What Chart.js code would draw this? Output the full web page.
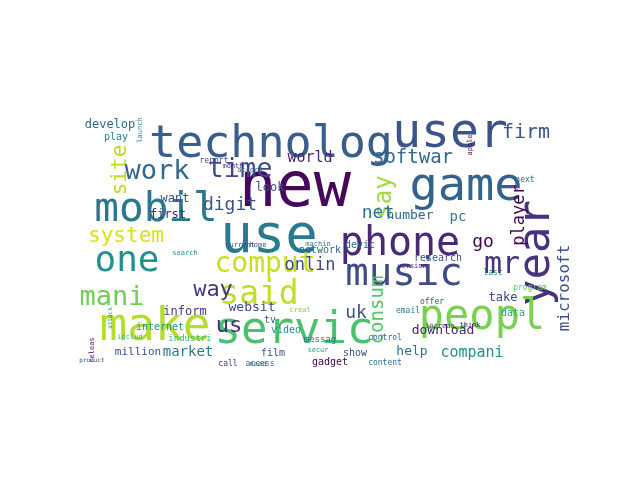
<!DOCTYPE html>
<html>
<head>
<meta charset="utf-8">
<script src="https://cdn.jsdelivr.net/npm/chart.js@4"></script>
<style>body{margin:0;background:#fff}canvas{display:block}</style>
</head>
<body>
<canvas id="c" width="640" height="480"></canvas>
<script>
// word cloud: word, placement (x,y in cloud units), weight, colour, vertical flag
const words = ['new','technolog','user','game','mobil','use','phone','year','one','music','said','make','servic','peopl',
  'mani','comput','work','time','site','system','digit','way','firm','softwar','say','net','player','world','onlin','pc',
  'number','uk','consum','go','microsoft','compani','download','help','take','data','us','market','million','develop','play',
  'first','want','look','websit','inform','internet','industri','show','tv','video','film','messag','network','devic','research',
  'program','gadget','content','call','access','report','next','last','control','offer','email','mr','launch','month','home',
  'creat','secur','need','releas','includ','search','current','accord','machin','increas','think','product','attack','version','apple'];
const posX = [295,271,450,466,156,269,400,538,127,404,259,155,294,482,
  112,265,157,240,121,126,230,213,526,413,385,378,520,310,310,458,
  410,356,378,483,565,472,443,412,503,513,229,188,138,110,116,
  168,175,270,252,185,160,190,355,270,286,273,320,320,360,438,
  530,330,385,228,260,214,525,493,385,432,408,502,140,233,258,
  300,318,258,92,130,185,240,250,318,440,470,92,110,412,470];
const posY = [190,145,135,188,210,238,245,253,262,275,295,328,332,318,
  298,265,172,170,170,237,205,290,133,158,197,213,215,158,266,217,
  216,313,310,242,288,353,331,352,298,313,326,352,352,125,137,
  215,199,188,308,312,327,339,353,320,330,353,340,250,245,258,
  288,362,363,364,364,161,180,273,338,302,311,265,130,166,245,
  310,350,364,350,337,253,245,170,244,326,325,360,318,266,145];
const weights = [62,45,48,47,41,54,40,44,36,39,33,46,44,42,
  27,28,27,27,21,21,18,22,20,19,24,18,17,15,17,14,
  13,18,19,18,16,15,13,13,12,10,22,14,11,12,10,
  12,12,12,13,12,10,9,10,10,10,10,9,10,10,10,
  8,10,8,8,8,8,8,8,8,8,8,30,7,7,7,
  7,7,7,7,7,7,7,7,7,7,7,6,6,7,7];
const colors = ['#46085c','#3a5e8c','#3b528b','#33638d','#2a788e','#297a8e','#482878','#46327e','#21918c','#3e4a89','#bddf26','#b5de2b','#4ac16d','#7ad151',
  '#6ece58','#c8e020','#31688e','#3f4788','#b8de29','#d8e219','#3b528b','#453781','#39568c','#31688e','#9fda3a','#2c728e','#440154','#482475','#3e4989','#277f8e',
  '#31688e','#3b528b','#55c667','#440154','#3b528b','#21918c','#482071','#2c728e','#414487','#21a685','#472d7b','#2a788e','#3b528b','#31688e','#26828e',
  '#482576','#3d4e8a','#3e4a89','#3e4989','#443983','#1f958b','#35b779','#3e4989','#31688e','#21918c','#3b528b','#2c728e','#31688e','#31688e','#3b528b',
  '#5ec962','#440154','#2c728e','#46327e','#31688e','#3e4a89','#31688e','#21918c','#31688e','#3b528b','#2a788e','#46327e','#26828e','#482878','#3b528b',
  '#7ad151','#1f9e89','#2c728e','#440154','#35b779','#21918c','#3e4a89','#31688e','#2a788e','#3e4989','#482878','#3b528b','#1f9e89','#482475','#440154'];
const vertical = [0,0,0,0,0,0,0,1,0,0,0,0,0,0,
  0,0,0,0,1,0,0,0,0,0,1,0,1,0,0,0,
  0,0,1,0,1,0,0,0,0,0,0,0,0,0,0,
  0,0,0,0,0,0,0,0,0,0,0,0,0,0,0,
  0,0,0,0,0,0,0,0,0,0,0,0,1,0,0,
  0,0,0,1,0,0,0,0,0,0,0,0,1,0,1];

const wordPlugin = {
  id: 'words',
  afterDatasetsDraw(chart) {
    const ctx = chart.ctx;
    const pts = chart.getDatasetMeta(0).data;
    ctx.save();
    ctx.textAlign = 'center';
    ctx.textBaseline = 'middle';
    pts.forEach((p, i) => {
      ctx.save();
      ctx.translate(p.x, p.y);
      if (vertical[i]) ctx.rotate(-Math.PI / 2);
      ctx.font = weights[i] + 'px "DejaVu Sans Mono"';
      ctx.fillStyle = colors[i];
      ctx.fillText(words[i], 0, 0);
      ctx.restore();
    });
    ctx.restore();
  }
};

new Chart(document.getElementById('c'), {
  type: 'scatter',
  data: { datasets: [{ data: words.map((w, i) => ({ x: posX[i], y: posY[i] })), pointRadius: 0 }] },
  options: {
    responsive: false,
    animation: false,
    layout: { padding: { left: 80, right: 62, top: 118, bottom: 112 } },
    plugins: { legend: { display: false }, tooltip: { enabled: false } },
    scales: {
      x: { display: false, min: 80, max: 578 },
      y: { display: false, min: 118, max: 368, reverse: true }
    }
  },
  plugins: [wordPlugin]
});
</script>
</body>
</html>
